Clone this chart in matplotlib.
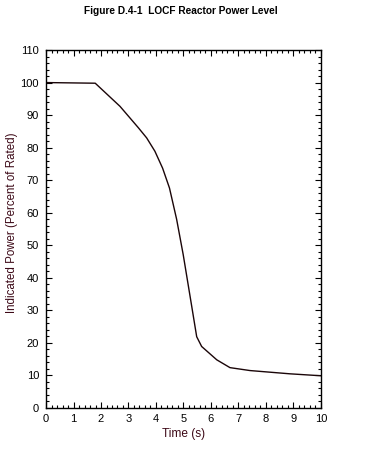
import matplotlib
matplotlib.use('Agg')
import matplotlib.pyplot as plt
from matplotlib.ticker import MultipleLocator

# time (s) and indicated power (% of rated)
time_s = [0.0, 1.79, 2.69, 3.36, 3.66, 3.96, 4.24, 4.49, 4.75, 4.99,
          5.30, 5.48, 5.66, 6.21, 6.69, 7.42, 8.87, 10.0]
power = [100.0, 99.8, 92.7, 86.1, 83.0, 78.9, 73.7, 67.6, 58.0, 47.1,
         31.2, 21.9, 18.9, 14.8, 12.4, 11.5, 10.5, 9.9]

plt.rcParams['font.family'] = ['Liberation Sans', 'DejaVu Sans']

labelColor = '#3c0816'

fig = plt.figure(figsize=(3.66, 4.61), dpi=100)
ax = fig.add_axes([0.1257, 0.115, 0.7513, 0.7765])
ax.plot(time_s, power, color='#1a0508', linewidth=1.0)

ax.set_xlim(0, 10)
ax.set_ylim(0, 110)
ax.xaxis.set_major_locator(MultipleLocator(1))
ax.xaxis.set_minor_locator(MultipleLocator(0.2))
ax.yaxis.set_major_locator(MultipleLocator(10))
ax.yaxis.set_minor_locator(MultipleLocator(2))
ax.tick_params(which='both', direction='in', top=True, right=True,
               labelsize=8, width=0.8)
ax.tick_params(axis='y', pad=5)
ax.tick_params(axis='x', pad=4)
ax.tick_params(which='major', length=4)
ax.tick_params(which='minor', length=2)
for s in ax.spines.values():
    s.set_linewidth(1.0)

ax.set_xlabel('Time (s)', fontsize=8.6, color=labelColor)
ax.xaxis.set_label_coords(0.5, -0.056)
ax.set_ylabel('Indicated Power (Percent of Rated)', fontsize=8.3,
              color=labelColor)
ax.yaxis.set_label_coords(-0.102, 0.517)
fig.text(0.495, 0.977, 'Figure D.4-1  LOCF Reactor Power Level', ha='center',
         va='center', fontsize=7.3, fontweight='bold')

fig.savefig('out.png', dpi=100)
